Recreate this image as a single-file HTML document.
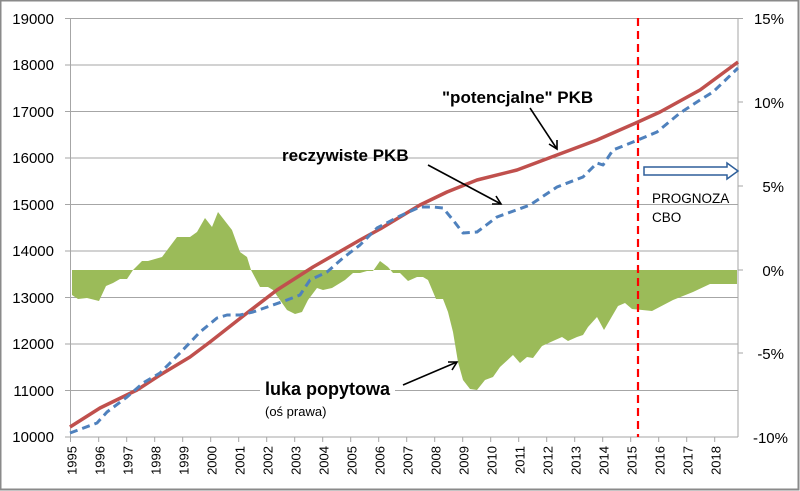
<!DOCTYPE html>
<html><head><meta charset="utf-8"><style>
html,body{margin:0;padding:0;background:#fff}
svg{display:block}
text{font-family:"Liberation Sans",sans-serif}
</style></head><body>
<svg width="800" height="491" viewBox="0 0 800 491" xmlns="http://www.w3.org/2000/svg">
<rect x="0.5" y="0.5" width="798" height="489" fill="#fff" stroke="#8a8a8a" stroke-width="2"/>
<g stroke="#a6a6a6" stroke-width="1">
<line x1="65" y1="18.5" x2="738" y2="18.5"/>
<line x1="65" y1="65" x2="738" y2="65"/>
<line x1="65" y1="111.5" x2="738" y2="111.5"/>
<line x1="65" y1="158" x2="738" y2="158"/>
<line x1="65" y1="204.5" x2="738" y2="204.5"/>
<line x1="65" y1="251" x2="738" y2="251"/>
<line x1="65" y1="297.5" x2="738" y2="297.5"/>
<line x1="65" y1="344" x2="738" y2="344"/>
<line x1="65" y1="390.5" x2="738" y2="390.5"/>
<line x1="65" y1="437" x2="738" y2="437"/>
<line x1="70.5" y1="18" x2="70.5" y2="442"/>
<line x1="738" y1="18" x2="738" y2="437"/>
<line x1="738" y1="18.5" x2="743" y2="18.5"/>
<line x1="738" y1="102" x2="743" y2="102"/>
<line x1="738" y1="186" x2="743" y2="186"/>
<line x1="738" y1="270" x2="743" y2="270"/>
<line x1="738" y1="353" x2="743" y2="353"/>
</g>
<g stroke="#a6a6a6">
<line x1="98.7" y1="437" x2="98.7" y2="442"/><line x1="126.7" y1="437" x2="126.7" y2="442"/><line x1="154.7" y1="437" x2="154.7" y2="442"/><line x1="182.7" y1="437" x2="182.7" y2="442"/><line x1="210.7" y1="437" x2="210.7" y2="442"/><line x1="238.7" y1="437" x2="238.7" y2="442"/><line x1="266.7" y1="437" x2="266.7" y2="442"/><line x1="294.7" y1="437" x2="294.7" y2="442"/><line x1="322.7" y1="437" x2="322.7" y2="442"/><line x1="350.7" y1="437" x2="350.7" y2="442"/><line x1="378.7" y1="437" x2="378.7" y2="442"/><line x1="406.7" y1="437" x2="406.7" y2="442"/><line x1="434.7" y1="437" x2="434.7" y2="442"/><line x1="462.7" y1="437" x2="462.7" y2="442"/><line x1="490.7" y1="437" x2="490.7" y2="442"/><line x1="518.7" y1="437" x2="518.7" y2="442"/><line x1="546.7" y1="437" x2="546.7" y2="442"/><line x1="574.7" y1="437" x2="574.7" y2="442"/><line x1="602.7" y1="437" x2="602.7" y2="442"/><line x1="630.7" y1="437" x2="630.7" y2="442"/><line x1="658.7" y1="437" x2="658.7" y2="442"/><line x1="686.7" y1="437" x2="686.7" y2="442"/><line x1="714.7" y1="437" x2="714.7" y2="442"/>
</g>
<rect x="432" y="80" width="180" height="26" fill="#fff"/>
<rect x="260" y="375" width="135" height="20" fill="#fff"/>
<path fill="#9bbb59" d="M72,270 L72,295 78,299 87,298 99,301 106,286 113,283 120,279 127,279 133,270 142,261 148,261 162,257 177,237 190,237 197,232 205,218 212,227 218,212 232,230 240,252 247,257 251,270 260,287 268,287 273,290 287,310 295,314 302,312 308,300 317,288 323,290 332,288 345,280 353,273 360,273 367,271 373,271 380,261 388,267 393,273 400,273 408,281 417,277 423,277 428,280 436,299 443,299 448,312 453,332 458,362 463,380 470,389 477,390 485,380 493,377 500,367 513,355 520,363 527,357 533,358 542,346 553,341 562,337 568,341 577,337 583,335 588,327 597,317 604,330 618,306 625,303 632,309 652,311 673,300 693,292 710,284 737,284 737,270 Z"/>
<line x1="638" y1="18" x2="638" y2="437" stroke="#ff0000" stroke-width="2.2" stroke-dasharray="8,5"/>
<polyline fill="none" stroke="#c0504d" stroke-width="3.5" stroke-linejoin="round" points="70,427 100,408 137,390 160,375 190,357 210,342 247,313 277,290 313,267 360,240 380,229 400,217 420,205 447,192 477,180 517,170 557,155 597,140 638,122 660,112 700,90 738,62"/>
<polyline fill="none" stroke="#4f81bd" stroke-width="3" stroke-dasharray="8,5" stroke-linejoin="round" points="70,433 97,423 107,412 127,397 143,383 160,373 180,353 200,332 217,318 227,315 240,315 253,312 273,305 287,300 300,295 310,280 327,272 343,258 360,245 377,228 400,216 420,207 433,207 443,208 453,220 463,233 477,232 497,217 530,205 557,187 583,177 597,163 603,165 613,150 633,142 657,132 680,113 700,100 713,92 738,68"/>
<g stroke="#000" stroke-width="1.6" fill="none">
<line x1="530" y1="108" x2="557" y2="149"/><polyline points="549,144 557,149 557,140"/>
<line x1="428" y1="165" x2="501" y2="204"/><polyline points="492,204 501,204 496,196"/>
<line x1="403" y1="385" x2="457" y2="362"/><polyline points="448,362 457,362 452,370"/>
</g>
<path d="M644,167 L727,167 L727,163 L738,171 L727,179 L727,175 L644,175 Z" fill="#fff" stroke="#2e5f9a" stroke-width="1.5"/>
<text x="652" y="203" font-size="13.5" fill="#000">PROGNOZA</text>
<text x="652" y="222" font-size="13.5" fill="#000">CBO</text>
<text x="442" y="103" font-size="17" font-weight="bold">"potencjalne" PKB</text>
<text x="282" y="161" font-size="17" font-weight="bold">reczywiste PKB</text>
<text x="265" y="395" font-size="18" font-weight="bold" textLength="125">luka popytowa</text>
<text x="265" y="416" font-size="13">(oś prawa)</text>
<g font-size="15" text-anchor="end" fill="#000">
<text x="54" y="24">19000</text><text x="54" y="70">18000</text><text x="54" y="117">17000</text><text x="54" y="163">16000</text><text x="54" y="210">15000</text><text x="54" y="256">14000</text><text x="54" y="303">13000</text><text x="54" y="349">12000</text><text x="54" y="396">11000</text><text x="54" y="442">10000</text>
</g>
<g font-size="15" text-anchor="end" fill="#000">
<text x="784" y="24">15%</text><text x="784" y="108">10%</text><text x="784" y="192">5%</text><text x="784" y="276">0%</text><text x="784" y="359">-5%</text><text x="788" y="443">-10%</text>
</g>
<g font-size="13" fill="#000" text-anchor="end">
<text transform="translate(76.5,446) rotate(-90)">1995</text><text transform="translate(104.5,446) rotate(-90)">1996</text><text transform="translate(132.5,446) rotate(-90)">1997</text><text transform="translate(160.5,446) rotate(-90)">1998</text><text transform="translate(188.5,446) rotate(-90)">1999</text><text transform="translate(216.5,446) rotate(-90)">2000</text><text transform="translate(244.5,446) rotate(-90)">2001</text><text transform="translate(272.5,446) rotate(-90)">2002</text><text transform="translate(300.5,446) rotate(-90)">2003</text><text transform="translate(328.5,446) rotate(-90)">2004</text><text transform="translate(356.5,446) rotate(-90)">2005</text><text transform="translate(384.5,446) rotate(-90)">2006</text><text transform="translate(412.5,446) rotate(-90)">2007</text><text transform="translate(440.5,446) rotate(-90)">2008</text><text transform="translate(468.5,446) rotate(-90)">2009</text><text transform="translate(496.5,446) rotate(-90)">2010</text><text transform="translate(524.5,446) rotate(-90)">2011</text><text transform="translate(552.5,446) rotate(-90)">2012</text><text transform="translate(580.5,446) rotate(-90)">2013</text><text transform="translate(608.5,446) rotate(-90)">2014</text><text transform="translate(636.5,446) rotate(-90)">2015</text><text transform="translate(664.5,446) rotate(-90)">2016</text><text transform="translate(692.5,446) rotate(-90)">2017</text><text transform="translate(720.5,446) rotate(-90)">2018</text>
</g>
</svg>
</body></html>
